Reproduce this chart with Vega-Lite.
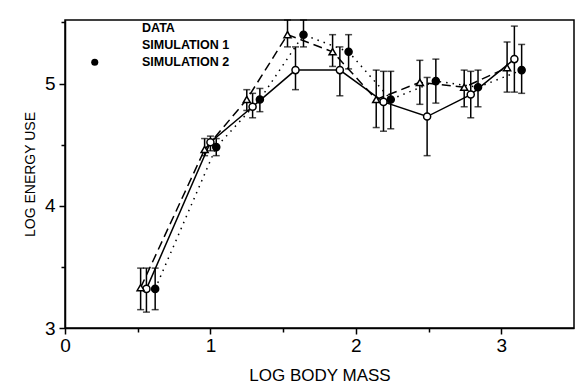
{
  "$schema": "https://vega.github.io/schema/vega-lite/v6.json",
  "width": 509,
  "height": 308,
  "autosize": "none",
  "padding": {"left": 65, "top": 20, "right": 1, "bottom": 58},
  "background": "white",
  "config": {
    "view": {"stroke": "black", "strokeWidth": 1.5},
    "font": "Liberation Sans",
    "axis": {"grid": false, "domainColor": "black", "domainWidth": 1.5, "tickColor": "black", "tickWidth": 1.5, "labelColor": "black", "titleColor": "black", "labelFontSize": 19, "titleFontSize": 17, "titleFontWeight": "normal", "labelFont": "Liberation Sans", "titleFont": "Liberation Sans"}
  },
  "data": {
    "values": [
      {"series": "DATA", "x": 0.56, "y": 3.32, "lo": 3.13, "hi": 3.49},
      {"series": "DATA", "x": 1.0, "y": 4.52, "lo": 4.45, "hi": 4.57},
      {"series": "DATA", "x": 1.29, "y": 4.81, "lo": 4.72, "hi": 4.92},
      {"series": "DATA", "x": 1.585, "y": 5.11, "lo": 4.95, "hi": 5.3},
      {"series": "DATA", "x": 1.89, "y": 5.11, "lo": 4.9, "hi": 5.3},
      {"series": "DATA", "x": 2.19, "y": 4.85, "lo": 4.61, "hi": 5.1},
      {"series": "DATA", "x": 2.49, "y": 4.73, "lo": 4.41, "hi": 5.05},
      {"series": "DATA", "x": 2.79, "y": 4.91, "lo": 4.72, "hi": 5.1},
      {"series": "DATA", "x": 3.09, "y": 5.2, "lo": 4.93, "hi": 5.47},
      {"series": "SIMULATION 1", "x": 0.52, "y": 3.33, "lo": 3.15, "hi": 3.49},
      {"series": "SIMULATION 1", "x": 0.96, "y": 4.46, "lo": 4.41, "hi": 4.55},
      {"series": "SIMULATION 1", "x": 1.25, "y": 4.87, "lo": 4.78, "hi": 4.95},
      {"series": "SIMULATION 1", "x": 1.53, "y": 5.4, "lo": 5.3, "hi": 5.52},
      {"series": "SIMULATION 1", "x": 1.84, "y": 5.26, "lo": 5.14, "hi": 5.4},
      {"series": "SIMULATION 1", "x": 2.14, "y": 4.87, "lo": 4.64, "hi": 5.11},
      {"series": "SIMULATION 1", "x": 2.44, "y": 5.01, "lo": 4.83, "hi": 5.19},
      {"series": "SIMULATION 1", "x": 2.745, "y": 4.97, "lo": 4.81, "hi": 5.11},
      {"series": "SIMULATION 1", "x": 3.04, "y": 5.13, "lo": 4.93, "hi": 5.34},
      {"series": "SIMULATION 2", "x": 0.62, "y": 3.32, "lo": 3.15, "hi": 3.49},
      {"series": "SIMULATION 2", "x": 1.04, "y": 4.48, "lo": 4.41, "hi": 4.55},
      {"series": "SIMULATION 2", "x": 1.34, "y": 4.87, "lo": 4.77, "hi": 4.96},
      {"series": "SIMULATION 2", "x": 1.64, "y": 5.4, "lo": 5.3, "hi": 5.52},
      {"series": "SIMULATION 2", "x": 1.95, "y": 5.26, "lo": 5.12, "hi": 5.4},
      {"series": "SIMULATION 2", "x": 2.24, "y": 4.87, "lo": 4.63, "hi": 5.1},
      {"series": "SIMULATION 2", "x": 2.55, "y": 5.02, "lo": 4.84, "hi": 5.2},
      {"series": "SIMULATION 2", "x": 2.84, "y": 4.97, "lo": 4.81, "hi": 5.11},
      {"series": "SIMULATION 2", "x": 3.14, "y": 5.11, "lo": 4.92, "hi": 5.32}
    ]
  },
  "encoding": {
    "x": {"field": "x", "type": "quantitative", "scale": {"domain": [0, 3.5], "nice": false, "zero": false},
      "axis": {"title": "LOG BODY MASS", "values": [0, 0.5, 1, 1.5, 2, 2.5, 3], "labelExpr": "datum.value % 1 === 0 ? format(datum.value, 'd') : ''", "tickSize": {"condition": {"test": "datum.value % 1 === 0", "value": 6}, "value": 4}, "labelPadding": 2, "titlePadding": 12, "labelFlush": false}}
  },
  "layer": [
    {
      "transform": [{"filter": "datum.series === 'DATA'"}],
      "mark": {"type": "line", "color": "black", "strokeWidth": 1.5},
      "encoding": {
        "y": {"field": "y", "type": "quantitative", "scale": {"domain": [3, 5.52], "nice": false, "zero": false},
          "axis": {"title": "LOG ENERGY USE", "titleFontSize": 14, "values": [3, 3.5, 4, 4.5, 5, 5.5], "labelExpr": "datum.value % 1 === 0 ? format(datum.value, 'd') : ''", "tickSize": {"condition": {"test": "datum.value % 1 === 0", "value": 6}, "value": 4}, "labelPadding": 4, "titlePadding": 7, "labelFlush": false}}
      }
    },
    {
      "transform": [{"filter": "datum.series === 'SIMULATION 1'"}],
      "mark": {"type": "line", "color": "black", "strokeWidth": 1.5, "strokeDash": [9, 5]},
      "encoding": {"y": {"field": "y", "type": "quantitative"}}
    },
    {
      "transform": [{"filter": "datum.series === 'SIMULATION 2'"}],
      "mark": {"type": "line", "color": "black", "strokeWidth": 1.5, "strokeDash": [1.5, 5]},
      "encoding": {"y": {"field": "y", "type": "quantitative"}}
    },
    {
      "mark": {"type": "rule", "color": "black", "strokeWidth": 1.5},
      "encoding": {"y": {"field": "lo", "type": "quantitative"}, "y2": {"field": "hi"}}
    },
    {
      "mark": {"type": "tick", "orient": "horizontal", "color": "black", "size": 7, "thickness": 1.5},
      "encoding": {"y": {"field": "lo", "type": "quantitative"}}
    },
    {
      "mark": {"type": "tick", "orient": "horizontal", "color": "black", "size": 7, "thickness": 1.5},
      "encoding": {"y": {"field": "hi", "type": "quantitative"}}
    },
    {
      "mark": {"type": "point", "stroke": "black", "strokeWidth": 1.5, "opacity": 1, "size": 50},
      "encoding": {
        "y": {"field": "y", "type": "quantitative"},
        "shape": {"field": "series", "type": "nominal", "scale": {"domain": ["DATA", "SIMULATION 1", "SIMULATION 2"], "range": ["circle", "triangle-up", "circle"]},
          "legend": {"title": null, "orient": "none", "legendX": 23.5, "legendY": 2, "padding": 0, "rowPadding": 3.5, "labelFontSize": 12.5, "labelFontWeight": "bold", "labelColor": "black", "labelFont": "Liberation Sans", "symbolSize": 50, "labelOffset": 41, "symbolStrokeWidth": 1.5, "symbolStrokeColor": "black",
            "encode": {"symbols": {
              "stroke": {"value": "black"},
              "strokeWidth": {"value": 1.5},
              "opacity": {"value": 1}
            }}}},
        "fill": {"field": "series", "type": "nominal", "scale": {"domain": ["DATA", "SIMULATION 1", "SIMULATION 2"], "range": ["white", "white", "black"]}}
      }
    }
  ]
}
